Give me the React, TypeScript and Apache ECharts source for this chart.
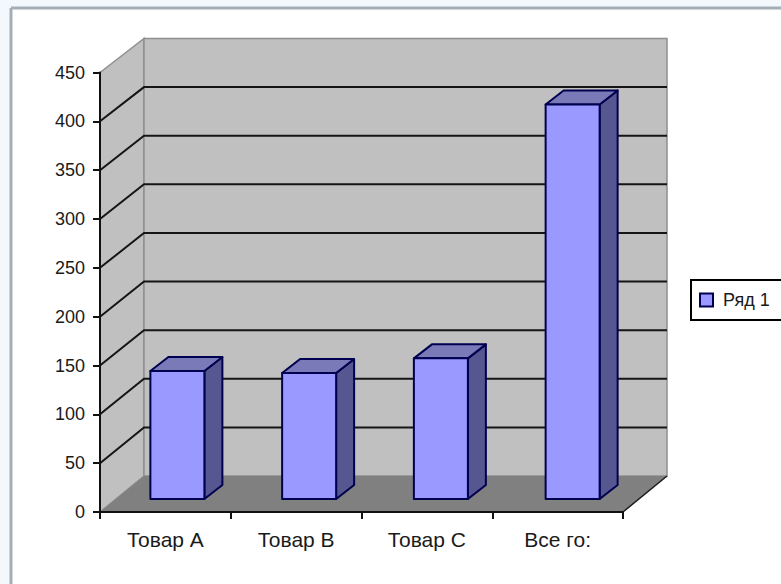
import React, { useEffect, useRef } from "react";
import * as echarts from "echarts";

const categories = ["Товар А", "Товар В", "Товар С", "Все го:"];
const seriesName = "Ряд 1";
const values = [131, 129, 144, 404];
const yMax = 450;
const yStep = 50;
const yTicks = [50, 100, 150, 200, 250, 300, 350, 400];

const DEPTH_X = 44;
const BAR_W = 54;
const BAR_DX = 18;
const BAR_DY = 14;
const BAR_BASE_LIFT = 13;
const FONT = "'Liberation Sans', Arial, sans-serif";

const depthY = (v: number) => 36 - (2 * v) / yMax;

export default function App() {
  const ref = useRef<HTMLDivElement>(null);
  useEffect(() => {
    const chart = echarts.init(ref.current!, null, { renderer: "svg" });

    const renderWalls = (_p: any, api: any) => {
      const band = api.size([1, 0])[0];
      const [c0, y0] = api.coord([0, 0]);
      const [cN] = api.coord([categories.length - 1, 0]);
      const [, yT] = api.coord([0, yMax]);
      const x0 = c0 - band / 2;
      const x1 = cN + band / 2;
      const bx = x0 + DEPTH_X;
      const bxR = x1 + DEPTH_X;
      const by0 = y0 - depthY(0);
      const byT = yT - depthY(yMax);
      const wallStyle = { fill: "#c0c0c0", stroke: "#8f8f8f", lineWidth: 1.5 };
      const children: any[] = [
        { type: "polygon", shape: { points: [[x0, yT], [bx, byT], [bx, by0], [x0, y0]] }, style: wallStyle },
        { type: "polygon", shape: { points: [[bx, byT], [bxR, byT], [bxR, by0], [bx, by0]] }, style: wallStyle },
        { type: "polygon", shape: { points: [[x0, y0], [bx, by0], [bxR, by0], [x1, y0]] }, style: { fill: "#808080" } },
        { type: "polyline", shape: { points: [[x1, y0], [bxR, by0]] }, style: { stroke: "#1a1a1a", lineWidth: 1.5, fill: "none" } },
      ];
      yTicks.forEach((v) => {
        const [, y] = api.coord([0, v]);
        const by = y - depthY(v);
        children.push({
          type: "polyline",
          shape: { points: [[x0, y], [bx, by], [bxR, by]] },
          style: { stroke: "#151515", lineWidth: 2, fill: "none" },
        });
      });
      return { type: "group", children };
    };

    const renderBar = (_p: any, api: any) => {
      const idx = api.value(0);
      const [cx, yBase] = api.coord([idx, 0]);
      const [, yTop] = api.coord([idx, api.value(1)]);
      const xL = cx + 12 + idx - BAR_W / 2;
      const xR = xL + BAR_W;
      const b = yBase - BAR_BASE_LIFT;
      const t = yTop - BAR_BASE_LIFT;
      const stroke = "#000050";
      const common = { stroke, lineWidth: 2, lineJoin: "round" };
      return {
        type: "group",
        children: [
          { type: "polygon", shape: { points: [[xR, t], [xR + BAR_DX, t - BAR_DY], [xR + BAR_DX, b - BAR_DY], [xR, b]] }, style: { ...common, fill: "#565690" } },
          { type: "polygon", shape: { points: [[xL, t], [xL + BAR_DX, t - BAR_DY], [xR + BAR_DX, t - BAR_DY], [xR, t]] }, style: { ...common, fill: "#7a7ab8" } },
          { type: "polygon", shape: { points: [[xL, t], [xR, t], [xR, b], [xL, b]] }, style: { ...common, fill: "#9999ff" } },
        ],
      };
    };

    chart.setOption({
      animation: false,
      backgroundColor: "#ffffff",
      textStyle: { fontFamily: FONT },
      graphic: [
        { type: "rect", z: 0, shape: { x: 0, y: 0, width: 781, height: 8 }, style: { fill: "#f3f8fc" } },
        { type: "rect", z: 0, shape: { x: 0, y: 0, width: 11, height: 584 }, style: { fill: "#f3f8fc" } },
        { type: "line", z: 1, shape: { x1: 11, y1: 8, x2: 781, y2: 8 }, style: { stroke: "#a3aeb6", lineWidth: 3 } },
        { type: "line", z: 1, shape: { x1: 11, y1: 8, x2: 11, y2: 584 }, style: { stroke: "#a3aeb6", lineWidth: 3 } },
      ],
      grid: { left: 100, top: 72.5, width: 523, height: 439.5 },
      legend: {
        show: true,
        orient: "vertical",
        left: 691,
        top: 280,
        padding: [11, 20, 11, 8],
        borderColor: "#000000",
        borderWidth: 2,
        backgroundColor: "#ffffff",
        itemWidth: 13,
        itemHeight: 13,
        itemGap: 0,
        textStyle: { fontSize: 18, color: "#1a1a1a", fontFamily: FONT, padding: [0, 0, 0, 5] },
        data: [
          {
            name: seriesName,
            icon: "rect",
            itemStyle: { color: "#9999ff", borderColor: "#000050", borderWidth: 2 },
          },
        ],
      },
      xAxis: {
        type: "category",
        data: categories,
        axisLine: { lineStyle: { color: "#111111", width: 2 } },
        axisTick: { show: true, alignWithLabel: false, length: 7, lineStyle: { color: "#111111", width: 2 } },
        axisLabel: { color: "#1a1a1a", fontSize: 21, margin: 17, fontFamily: FONT },
        z: 5,
      },
      yAxis: {
        type: "value",
        min: 0,
        max: yMax,
        interval: yStep,
        axisLine: { show: true, lineStyle: { color: "#111111", width: 2 } },
        axisTick: { show: true, length: 7, lineStyle: { color: "#111111", width: 2 } },
        axisLabel: { color: "#1a1a1a", fontSize: 18, margin: 15, fontFamily: FONT },
        splitLine: { show: false },
        z: 5,
      },
      series: [
        {
          type: "custom",
          name: "walls",
          silent: true,
          renderItem: renderWalls,
          data: [[0, 0]],
          encode: { x: 0, y: 1 },
          clip: false,
          z: 1,
        },
        {
          type: "custom",
          name: seriesName,
          renderItem: renderBar,
          itemStyle: { color: "#9999ff" },
          data: values.map((v, i) => [i, v]),
          encode: { x: 0, y: 1 },
          clip: false,
          z: 3,
        },
      ],
    });
    return () => chart.dispose();
  }, []);
  return <div ref={ref} style={{ position: "fixed", left: 0, top: 0, width: 781, height: 584 }} />;
}
